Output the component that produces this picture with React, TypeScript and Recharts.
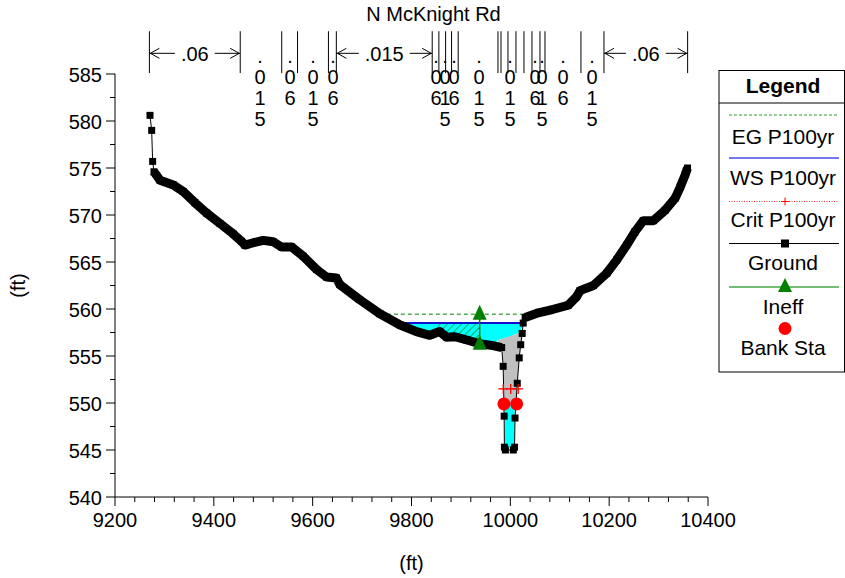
import React from 'react';
import { ComposedChart, Line, Area, XAxis, YAxis, ReferenceLine, ReferenceDot } from 'recharts';

const FONT = 'Arial, "Liberation Sans", Helvetica, sans-serif';

// axis ticks
const xMajorTicks = [9200, 9400, 9600, 9800, 10000, 10200, 10400];
const yMajorTicks = [540, 545, 550, 555, 560, 565, 570, 575, 580, 585];
const xTicks = Array.from({ length: 31 }, (_, i) => 9200 + i * 40);
const yTicks = Array.from({ length: 19 }, (_, i) => 540 + i * 2.5);

// ground profile: station (ft), elevation (ft)
const ground = [
  { x: 9270.8, y: 580.6 },
  { x: 9274.2, y: 579.0 },
  { x: 9276.2, y: 575.7 },
  { x: 9278.9, y: 574.6 },
  { x: 9291, y: 573.7 },
  { x: 9318, y: 573.2 },
  { x: 9338, y: 572.5 },
  { x: 9362, y: 571.3 },
  { x: 9385.5, y: 570.2 },
  { x: 9412.5, y: 569.1 },
  { x: 9439, y: 568.0 },
  { x: 9456, y: 567.2 },
  { x: 9463, y: 566.8 },
  { x: 9480, y: 567.05 },
  { x: 9500, y: 567.3 },
  { x: 9520, y: 567.15 },
  { x: 9537, y: 566.6 },
  { x: 9557.5, y: 566.6 },
  { x: 9581, y: 565.6 },
  { x: 9608, y: 564.2 },
  { x: 9628, y: 563.4 },
  { x: 9648, y: 563.3 },
  { x: 9655, y: 562.6 },
  { x: 9695, y: 561.0 },
  { x: 9736, y: 559.5 },
  { x: 9777, y: 558.3 },
  { x: 9810, y: 557.6 },
  { x: 9837, y: 557.2 },
  { x: 9857, y: 557.6 },
  { x: 9871, y: 557.0 },
  { x: 9888, y: 557.05 },
  { x: 9912, y: 556.7 },
  { x: 9938, y: 556.3 },
  { x: 9965, y: 556.1 },
  { x: 9982.5, y: 555.9 },
  { x: 9985.5, y: 553.9 },
  { x: 9987.5, y: 548.6 },
  { x: 9988, y: 545.3 },
  { x: 9990, y: 545.0 },
  { x: 10006, y: 545.0 },
  { x: 10008.5, y: 545.3 },
  { x: 10009.5, y: 548.4 },
  { x: 10014, y: 552.1 },
  { x: 10018, y: 554.8 },
  { x: 10021, y: 556.2 },
  { x: 10024, y: 557.4 },
  { x: 10026, y: 558.5 },
  { x: 10030, y: 559.1 },
  { x: 10056.6, y: 559.6 },
  { x: 10087, y: 559.97 },
  { x: 10117, y: 560.4 },
  { x: 10134, y: 561.3 },
  { x: 10141, y: 561.95 },
  { x: 10168, y: 562.5 },
  { x: 10195, y: 563.8 },
  { x: 10215, y: 565.2 },
  { x: 10235.5, y: 566.8 },
  { x: 10252, y: 568.2 },
  { x: 10269, y: 569.4 },
  { x: 10289.5, y: 569.4 },
  { x: 10313, y: 570.5 },
  { x: 10333.6, y: 571.8 },
  { x: 10344, y: 573.0 },
  { x: 10354, y: 574.3 },
  { x: 10358.5, y: 575.0 },
];

// densely surveyed overbanks (drawn heavy, like the stacked markers)
const leftOverbank = ground.filter((p) => p.x >= 9278 && p.x <= 9983);
const rightOverbank = ground.filter((p) => p.x >= 10029);

const energyGrade = [
  { x: 9736, y: 559.45 },
  { x: 10057, y: 559.45 },
];
const waterSurface = [
  { x: 9775, y: 558.5 },
  { x: 10028, y: 558.5 },
];
const critDepth = [
  { x: 9985.7, y: 551.5 },
  { x: 10000.7, y: 551.5 },
  { x: 10016, y: 551.5 },
];
const ineffective = [
  { x: 9938, y: 556.4 },
  { x: 9938, y: 559.6 },
];
const bankStations = [
  { x: 9987, y: 549.9 },
  { x: 10012.8, y: 549.9 },
];

// filled regions: station, bottom, top
const flowArea = [
  { x: 9770, lo: 558.5, hi: 558.5 },
  { x: 9777, lo: 558.3, hi: 558.5 },
  { x: 9810, lo: 557.6, hi: 558.5 },
  { x: 9837, lo: 557.2, hi: 558.5 },
  { x: 9857, lo: 557.6, hi: 558.5 },
  { x: 9871, lo: 557.0, hi: 558.5 },
  { x: 9888, lo: 557.05, hi: 558.5 },
  { x: 9912, lo: 556.7, hi: 558.5 },
  { x: 9938, lo: 556.3, hi: 558.5 },
  { x: 9965, lo: 556.1, hi: 558.5 },
  { x: 9975, lo: 556.7, hi: 558.5 },
  { x: 9995, lo: 557.0, hi: 558.5 },
  { x: 10021, lo: 557.55, hi: 558.5 },
  { x: 10026, lo: 558.5, hi: 558.5 },
];
const ineffArea = [
  { x: 9853, lo: 557.5, hi: 558.4 },
  { x: 9871, lo: 557.0, hi: 558.4 },
  { x: 9888, lo: 557.05, hi: 558.4 },
  { x: 9912, lo: 556.7, hi: 558.4 },
  { x: 9938, lo: 556.3, hi: 558.4 },
];
const blockedArea = [
  { x: 9975, lo: 556.0, hi: 556.7 },
  { x: 9983, lo: 555.9, hi: 556.8 },
  { x: 9985.5, lo: 553.9, hi: 556.9 },
  { x: 9987.5, lo: 550.0, hi: 556.9 },
  { x: 10009.5, lo: 550.0, hi: 557.3 },
  { x: 10012, lo: 550.5, hi: 557.35 },
  { x: 10014, lo: 552.1, hi: 557.4 },
  { x: 10018, lo: 554.8, hi: 557.5 },
  { x: 10021, lo: 556.2, hi: 557.55 },
  { x: 10024, lo: 557.2, hi: 557.6 },
];
const channelFlow = [
  { x: 9988.5, lo: 545.3, hi: 550.0 },
  { x: 10009, lo: 545.3, hi: 550.0 },
];

// Manning's n breaks and values along the top
const nBreaks = [
  9269.6, 9453.4, 9537.4, 9569.4, 9631.9, 9647.9, 9841.9, 9855.4, 9869, 9881.1, 9894.5,
  9975, 9981.1, 9995.2, 10011.4, 10027.6, 10043.8, 10060, 10070.1, 10142.9, 10189.5, 10358.8,
];
const nSpans = [
  { from: 9269.6, to: 9453.4, n: '.06' },
  { from: 9647.9, to: 9841.9, n: '.015' },
  { from: 10189.5, to: 10358.8, n: '.06' },
];
const nStacked = [
  { x: 9493.4, n: '.015' },
  { x: 9554.1, n: '.06' },
  { x: 9600.6, n: '.015' },
  { x: 9641.1, n: '.06' },
  { x: 9849.5, n: '.06' },
  { x: 9867.7, n: '.015' },
  { x: 9886, n: '.06' },
  { x: 9936.6, n: '.015' },
  { x: 9999.3, n: '.015' },
  { x: 10049.9, n: '.06' },
  { x: 10064.1, n: '.015' },
  { x: 10106.6, n: '.06' },
  { x: 10165.3, n: '.015' },
];

const N_TOP = 589.55;
const N_BOTTOM = 585.1;
const N_ARROW = 587.2;
const N_STACK = 586.17;

const GREEN = '#008000';
const WS_BLUE = '#1010d0';

const XTick = ({ x, y, payload }: any) => {
  const major = xMajorTicks.includes(payload.value);
  return (
    <g>
      <line x1={x} y1={y} x2={x} y2={y + (major ? 9 : 5)} stroke="#000" />
      {major && (
        <text x={x} y={y + 30} textAnchor="middle" fontSize={20} fill="#000">
          {payload.value}
        </text>
      )}
    </g>
  );
};

const YTick = ({ x, y, payload }: any) => {
  const major = yMajorTicks.includes(payload.value);
  return (
    <g>
      <line x1={x} y1={y} x2={x - (major ? 9 : 5)} y2={y} stroke="#000" />
      {major && (
        <text x={x - 13} y={y + 8} textAnchor="end" fontSize={20} fill="#000">
          {payload.value}
        </text>
      )}
    </g>
  );
};

const SquareDot = (p: any) =>
  p.cx == null ? <g /> : <rect x={p.cx - 3.5} y={p.cy - 3.5} width={7} height={7} fill="#000" />;

const TriangleDot = (p: any) =>
  p.cx == null ? (
    <g />
  ) : (
    <polygon points={`${p.cx},${p.cy - 8} ${p.cx - 7},${p.cy + 7} ${p.cx + 7},${p.cy + 7}`} fill={GREEN} />
  );

const PlusDot = (p: any) =>
  p.cx == null ? (
    <g />
  ) : (
    <path d={`M${p.cx - 5},${p.cy}H${p.cx + 5}M${p.cx},${p.cy - 5}V${p.cy + 5}`} stroke="#ff0000" strokeWidth={1.3} />
  );

const textWidth = (s: string) => s.split('').reduce((w, c) => w + (c === '.' ? 5.6 : 11.1), 0);

const spanShape = (n: string) => (p: any) => {
  const { x1, x2, y1 } = p;
  const mid = (x1 + x2) / 2;
  const half = textWidth(n) / 2 + 6;
  return (
    <g>
      <g stroke="#000" strokeWidth={1} fill="none">
        <line x1={x1} y1={y1} x2={mid - half} y2={y1} />
        <polyline points={`${x1 + 10},${y1 - 5} ${x1 + 1},${y1} ${x1 + 10},${y1 + 5}`} />
        <line x1={mid + half} y1={y1} x2={x2} y2={y1} />
        <polyline points={`${x2 - 10},${y1 - 5} ${x2 - 1},${y1} ${x2 - 10},${y1 + 5}`} />
      </g>
      <text x={mid} y={y1 + 8} textAnchor="middle" fontSize={20} fill="#000">
        {n}
      </text>
    </g>
  );
};

const stackShape = (n: string) => (p: any) => (
  <text x={p.cx} y={p.cy} textAnchor="middle" fontSize={20} fill="#000">
    {n.split('').map((c, i) => (
      <tspan key={i} x={p.cx} dy={i === 0 ? 0 : 21}>
        {c}
      </tspan>
    ))}
  </text>
);

const rangeKey = (d: any) => [d.lo, d.hi];

const LegendBox = () => {
  const cx = 65;
  return (
    <svg width={127} height={304} style={{ position: 'absolute', left: 718, top: 70 }} fontFamily={FONT}>
      <rect x={1} y={0.5} width={125.5} height={301.5} fill="#fff" stroke="#000" />
      <text x={cx} y={22.5} textAnchor="middle" fontSize={21} fontWeight="bold">
        Legend
      </text>
      <line x1={1} y1={33} x2={126.5} y2={33} stroke="#000" />
      <line x1={11} y1={45} x2={121} y2={45} stroke="#22a022" strokeDasharray="3 2" />
      <text x={cx} y={73.5} textAnchor="middle" fontSize={21}>
        EG P100yr
      </text>
      <line x1={11} y1={88} x2={121} y2={88} stroke="#4848ee" strokeWidth={1.5} />
      <text x={cx} y={115} textAnchor="middle" fontSize={21}>
        WS P100yr
      </text>
      <line x1={11} y1={131.5} x2={121} y2={131.5} stroke="#ff3030" strokeDasharray="1 1.5" />
      <path d={`M${cx + 2 - 4},131.5H${cx + 2 + 4}M${cx + 2},127.5V135.5`} stroke="#ff0000" />
      <text x={cx} y={157} textAnchor="middle" fontSize={21}>
        Crit P100yr
      </text>
      <line x1={11} y1={173.5} x2={121} y2={173.5} stroke="#000" />
      <rect x={cx + 2 - 4} y={169.5} width={8} height={8} fill="#000" />
      <text x={cx} y={200} textAnchor="middle" fontSize={21}>
        Ground
      </text>
      <line x1={11} y1={217} x2={121} y2={217} stroke="#44a844" strokeWidth={1.5} />
      <polygon points={`${cx + 2},${208} ${cx + 2 - 7},${222} ${cx + 2 + 7},${222}`} fill={GREEN} />
      <text x={cx} y={243.5} textAnchor="middle" fontSize={21}>
        Ineff
      </text>
      <circle cx={cx + 2} cy={258.5} r={6.5} fill="#ff0000" />
      <text x={cx} y={285} textAnchor="middle" fontSize={21}>
        Bank Sta
      </text>
    </svg>
  );
};

export default function App() {
  return (
    <div style={{ position: 'absolute', left: 0, top: 0, width: 845, height: 578, background: '#fff', fontFamily: FONT }}>
      <svg width={0} height={0} style={{ position: 'absolute' }}>
        <defs>
          <pattern id="ineffHatch" width={5} height={5} patternUnits="userSpaceOnUse" patternTransform="rotate(45)">
            <rect width={5} height={5} fill="#00ffff" />
            <line x1={0} y1={0} x2={0} y2={5} stroke={GREEN} strokeWidth={1.3} />
          </pattern>
        </defs>
      </svg>
      <div style={{ position: 'absolute', left: 0, top: 2, width: 867, textAlign: 'center', fontSize: 20, lineHeight: '24px' }}>
        N McKnight Rd
      </div>
      <ComposedChart width={845} height={578} margin={{ top: 74, right: 137, bottom: 0, left: 0 }}>
        <XAxis
          type="number"
          dataKey="x"
          domain={[9200, 10400]}
          allowDataOverflow
          ticks={xTicks}
          interval={0}
          tick={(p: any) => <XTick {...p} />}
          tickLine={false}
          tickSize={0}
          tickMargin={0}
          height={81}
          axisLine={{ stroke: '#000' }}
          label={{ value: '(ft)', position: 'insideBottom', offset: 8, fontSize: 20, fill: '#000' }}
        />
        <YAxis
          type="number"
          domain={[540, 585]}
          allowDataOverflow
          ticks={yTicks}
          interval={0}
          tick={(p: any) => <YTick {...p} />}
          tickLine={false}
          tickSize={0}
          tickMargin={0}
          width={115}
          axisLine={{ stroke: '#000' }}
          label={{
            value: '(ft)',
            angle: -90,
            position: 'insideLeft',
            offset: 18,
            fontSize: 20,
            fill: '#000',
            style: { textAnchor: 'middle' },
          }}
        />

        <Area data={flowArea} dataKey={rangeKey} type="linear" stroke="none" fill="#00ffff" fillOpacity={1} isAnimationActive={false} />
        <Area data={ineffArea} dataKey={rangeKey} type="linear" stroke="none" fill="url(#ineffHatch)" fillOpacity={1} isAnimationActive={false} />
        <Area data={blockedArea} dataKey={rangeKey} type="linear" stroke="none" fill="#c0c0c0" fillOpacity={1} isAnimationActive={false} />
        <Area data={channelFlow} dataKey={rangeKey} type="linear" stroke="none" fill="#00ffff" fillOpacity={1} isAnimationActive={false} />

        <Line data={energyGrade} dataKey="y" type="linear" stroke={GREEN} strokeWidth={1} strokeDasharray="4 3" dot={false} isAnimationActive={false} />
        <Line data={waterSurface} dataKey="y" type="linear" stroke={WS_BLUE} strokeWidth={2} dot={false} isAnimationActive={false} />

        <Line data={leftOverbank} dataKey="y" type="linear" stroke="#000" strokeWidth={9} strokeLinejoin="round" dot={false} isAnimationActive={false} />
        <Line data={rightOverbank} dataKey="y" type="linear" stroke="#000" strokeWidth={9} strokeLinejoin="round" dot={false} isAnimationActive={false} />
        <Line data={ground} dataKey="y" type="linear" stroke="#000" strokeWidth={1} dot={SquareDot} isAnimationActive={false} />

        <Line data={critDepth} dataKey="y" type="linear" stroke="#ff0000" strokeWidth={1} strokeDasharray="1 2" dot={PlusDot} isAnimationActive={false} />
        <Line data={ineffective} dataKey="y" type="linear" stroke={GREEN} strokeWidth={1.5} dot={TriangleDot} isAnimationActive={false} />
        <Line data={bankStations} dataKey="y" type="linear" stroke="none" dot={{ r: 6.5, fill: '#ff0000', stroke: 'none' }} isAnimationActive={false} />

        {nBreaks.map((s, i) => (
          <ReferenceLine
            key={`b${i}`}
            segment={[
              { x: s, y: N_BOTTOM },
              { x: s, y: N_TOP },
            ]}
            ifOverflow="visible"
            stroke="#000"
            strokeWidth={1}
          />
        ))}
        {nSpans.map((s, i) => (
          <ReferenceLine
            key={`s${i}`}
            segment={[
              { x: s.from, y: N_ARROW },
              { x: s.to, y: N_ARROW },
            ]}
            ifOverflow="visible"
            shape={spanShape(s.n)}
          />
        ))}
        {nStacked.map((s, i) => (
          <ReferenceDot key={`n${i}`} x={s.x} y={N_STACK} ifOverflow="visible" shape={stackShape(s.n)} />
        ))}
      </ComposedChart>
      <LegendBox />
    </div>
  );
}
